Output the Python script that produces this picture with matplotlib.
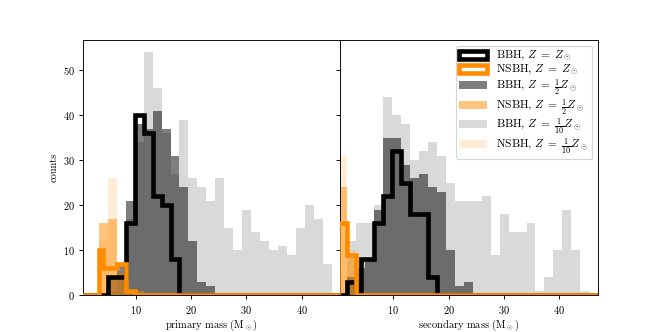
import numpy as np
import matplotlib
matplotlib.use('Agg')
import matplotlib.pyplot as plt

plt.rcParams['font.family'] = 'serif'
plt.rcParams['font.serif'] = ['cmr10']
plt.rcParams['mathtext.fontset'] = 'cm'
plt.rcParams['axes.formatter.use_mathtext'] = True
plt.rcParams['font.size'] = 9

# common mass bins (M_sun)
bins = np.arange(0, 50, 1.625)

# primary mass, counts per bin
bbh_half_p = [0, 0, 0, 4, 7, 21, 38, 37, 41, 37, 31, 24, 12, 3, 2,
              0, 0, 0, 0, 0, 0, 0, 0, 0, 0, 0, 0, 0, 0, 0]
bbh_tenth_p = [0, 0, 0, 1, 5, 17, 34, 54, 46, 36, 27, 39, 26, 24, 21,
               26, 15, 10, 19, 14, 12, 10, 11, 9, 15, 20, 17, 7, 0, 0]
nsbh_half_p = [0, 0, 16, 17, 5, 1, 1, 0, 0, 0, 0, 0, 0, 0, 0,
               0, 0, 0, 0, 0, 0, 0, 0, 0, 0, 0, 0, 0, 0, 0]
nsbh_tenth_p = [0, 0, 12, 26, 4, 1, 0, 0, 0, 0, 0, 0, 0, 0, 0,
                0, 0, 0, 0, 0, 0, 0, 0, 0, 0, 0, 0, 0, 0, 0]
# solar metallicity (own bin edges)
bbh_sol_p_edges = [0, 4.875, 8.125, 9.75, 11.375, 13.0, 14.625, 16.25, 17.875, 48.75]
bbh_sol_p = [0, 4, 16, 40, 36, 22, 20, 8, 0]
nsbh_sol_p_edges = [0, 3.25, 4.0625, 6.5, 8.125, 9.75, 48.75]
nsbh_sol_p = [0, 10, 6, 7, 1, 0]

# secondary mass, counts per bin
bbh_half_s = [0, 4, 6, 8, 19, 35, 35, 29, 26, 27, 24, 23, 10, 2, 3,
              0, 0, 0, 0, 0, 0, 0, 0, 0, 0, 0, 0, 0, 0, 0]
bbh_tenth_s = [0, 12, 16, 16, 20, 44, 40, 38, 30, 32, 34, 31, 25, 21, 21,
               21, 22, 9, 18, 14, 14, 16, 1, 4, 10, 19, 10, 1, 0, 0]
nsbh_half_s = [24, 9, 1, 0, 0, 0, 0, 0, 0, 0, 0, 0, 0, 0, 0,
               0, 0, 0, 0, 0, 0, 0, 0, 0, 0, 0, 0, 0, 0, 0]
nsbh_tenth_s = [31, 10, 0, 0, 0, 0, 0, 0, 0, 0, 0, 0, 0, 0, 0,
                0, 0, 0, 0, 0, 0, 0, 0, 0, 0, 0, 0, 0, 0, 0]
bbh_sol_s_edges = [0, 1.625, 3.25, 4.0625, 6.5, 8.125, 9.75, 11.375, 13.0, 16.25, 17.875, 48.75]
bbh_sol_s = [0, 3, 0, 8, 16, 22, 32, 25, 18, 4, 0]
nsbh_sol_s_edges = [0, 1.625, 3.25, 48.75]
nsbh_sol_s = [16, 9, 0]

labels = [r'BBH, $Z\;=\;Z_\odot$', r'NSBH, $Z\;=\;Z_\odot$',
          r'BBH, $Z\;=\;\frac{1}{2}Z_\odot$', r'NSBH, $Z\;=\;\frac{1}{2}Z_\odot$',
          r'BBH, $Z\;=\;\frac{1}{10}Z_\odot$', r'NSBH, $Z\;=\;\frac{1}{10}Z_\odot$']


def hist_counts(ax, edges, counts, **kw):
    edges = np.asarray(edges, dtype=float)
    return ax.hist(edges[:-1], bins=edges, weights=counts, **kw)


def plot_panel(ax, sol_b, sol_n, half_b, half_n, tenth_b, tenth_n):
    hist_counts(ax, sol_b[0], sol_b[1], histtype='step', color='k', lw=4,
                zorder=3, label=labels[0])
    hist_counts(ax, sol_n[0], sol_n[1], histtype='step', color='darkorange', lw=4,
                zorder=3, label=labels[1])
    hist_counts(ax, bins, half_b, histtype='stepfilled', color='k', alpha=0.5,
                lw=0, zorder=2, label=labels[2])
    hist_counts(ax, bins, half_n, histtype='stepfilled', color='darkorange', alpha=0.5,
                lw=0, zorder=2, label=labels[3])
    hist_counts(ax, bins, tenth_b, histtype='stepfilled', color='k', alpha=0.15,
                lw=0, zorder=1, label=labels[4])
    hist_counts(ax, bins, tenth_n, histtype='stepfilled', color='darkorange', alpha=0.15,
                lw=0, zorder=1, label=labels[5])
    ax.set_xlim(0.4, 47.0)


fig, axes = plt.subplots(1, 2, figsize=(8, 4), dpi=83, sharey=True)
plt.subplots_adjust(wspace=0)

plot_panel(axes[0], (bbh_sol_p_edges, bbh_sol_p), (nsbh_sol_p_edges, nsbh_sol_p),
           bbh_half_p, nsbh_half_p, bbh_tenth_p, nsbh_tenth_p)
plot_panel(axes[1], (bbh_sol_s_edges, bbh_sol_s), (nsbh_sol_s_edges, nsbh_sol_s),
           bbh_half_s, nsbh_half_s, bbh_tenth_s, nsbh_tenth_s)

axes[0].set_xlabel(r'primary mass (M$_\odot$)', labelpad=2)
axes[1].set_xlabel(r'secondary mass (M$_\odot$)', labelpad=2)
axes[0].set_ylabel('counts')
axes[1].legend(loc='upper right', fontsize=10, labelspacing=0.0, borderpad=0.3,
               handlelength=2.4)

plt.savefig('out.png', dpi=83)
